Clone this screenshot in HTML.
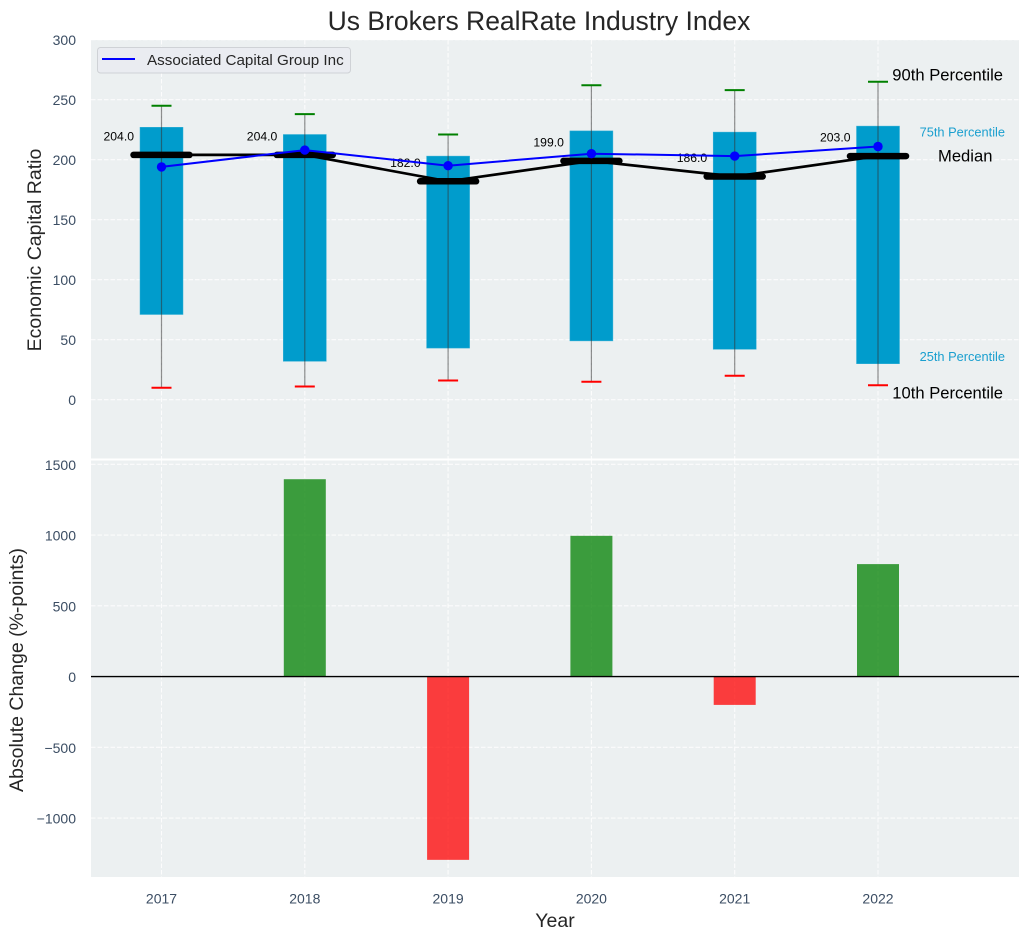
<!DOCTYPE html>
<html>
<head>
<meta charset="utf-8">
<title>Us Brokers RealRate Industry Index</title>
<style>
html,body{margin:0;padding:0;background:#fff;}
svg{display:block;font-family:"Liberation Sans",sans-serif;}
</style>
</head>
<body>
<svg id="chart" width="1029" height="940" viewBox="0 0 1029 940" xmlns="http://www.w3.org/2000/svg"></svg>
<script>
const years = [2017, 2018, 2019, 2020, 2021, 2022];
const p90 = [245, 238, 221, 262, 258, 265];
const p75 = [227, 221, 203, 224, 223, 228];
const median = [204, 204, 182, 199, 186, 203];
const p25 = [71, 32, 43, 49, 42, 30];
const p10 = [10, 11, 16, 15, 20, 12];
const company = [194, 208, 195, 205, 203, 211];
const absChange = [null, 1395, -1295, 995, -200, 795];
const topTicks = [0, 50, 100, 150, 200, 250, 300];
const bottomTicks = [-1000, -500, 0, 500, 1000, 1500];
const seriesName = 'Associated Capital Group Inc';

const NS = 'http://www.w3.org/2000/svg';
const svg = document.getElementById('chart');
const L = 91, R = 1019, T1 = 40, B1 = 458.5, T2 = 460.5, B2 = 877;
const tickColor = '#3b4d63', labelColor = '#262626';
const x = v => 161.5 + (v - 2017) * 143.3;
const yTop = v => 399.7 - v * 1.2;
const yBot = v => 676.6 - v * 0.1415;
const fmtTick = v => (v < 0 ? '\u2212' + Math.abs(v) : String(v));

function el(tag, attrs, parent) {
  const e = document.createElementNS(NS, tag);
  for (const k in attrs) e.setAttribute(k, attrs[k]);
  (parent || svg).appendChild(e);
  return e;
}
function txt(str, attrs, parent) {
  const e = el('text', attrs, parent);
  e.textContent = str;
  return e;
}

/* axes backgrounds */
const bgTop = el('rect', {x: L, y: T1, width: R - L, height: B1 - T1, fill: '#ecf0f1'});


const bgBot = el('rect', {x: L, y: T2, width: R - L, height: B2 - T2, fill: '#ecf0f1'});



/* grid */
const grid = el('g', {stroke: '#fff', 'stroke-width': 1.1, 'stroke-dasharray': '4.5 2', opacity: 0.85});


years.forEach(v => {
  el('line', {x1: x(v), x2: x(v), y1: T1, y2: B1}, grid);
  el('line', {x1: x(v), x2: x(v), y1: T2, y2: B2}, grid);
});
topTicks.forEach(v => el('line', {x1: L, x2: R, y1: yTop(v), y2: yTop(v)}, grid));
bottomTicks.forEach(v => el('line', {x1: L, x2: R, y1: yBot(v), y2: yBot(v)}, grid));

/* tick labels */
topTicks.forEach(v => {
  const t = txt(fmtTick(v), {x: 76, y: yTop(v) + 5.5, 'text-anchor': 'end', 'font-size': 14, fill: tickColor});
  
  
});
bottomTicks.forEach(v => {
  const t = txt(fmtTick(v), {x: 76, y: yBot(v) + 5.5, 'text-anchor': 'end', 'font-size': 14, fill: tickColor});
  
  
});
years.forEach(v => {
  const t = txt(String(v), {x: x(v), y: 903.5, 'text-anchor': 'middle', 'font-size': 14, fill: tickColor});
  
  
});

/* percentile bars */
years.forEach((v, i) => {
  const b = el('rect', {x: x(v) - 21.5, width: 43, y: yTop(p75[i]), height: yTop(p25[i]) - yTop(p75[i]), fill: '#009ccc', stroke: '#33b0d6', 'stroke-width': 0.5});
  
  
});

/* whiskers */
years.forEach((v, i) => {
  const w = el('line', {x1: x(v), x2: x(v), y1: yTop(p90[i]), y2: yTop(p10[i]), stroke: '#333', 'stroke-opacity': 0.55, 'stroke-width': 1.2});
  
  
  const hi = el('line', {x1: x(v) - 10, x2: x(v) + 10, y1: yTop(p90[i]), y2: yTop(p90[i]), stroke: '#008000', 'stroke-width': 2});
  
  
  const lo = el('line', {x1: x(v) - 10, x2: x(v) + 10, y1: yTop(p10[i]), y2: yTop(p10[i]), stroke: '#ff0000', 'stroke-width': 2});
  
  
});

/* median line and thick markers */
const medLine = el('polyline', {points: years.map((v, i) => x(v) + ',' + yTop(median[i])).join(' '), fill: 'none', stroke: '#000', 'stroke-width': 2.7});


years.forEach((v, i) => {
  const m = el('line', {x1: x(v) - 28, x2: x(v) + 28, y1: yTop(median[i]), y2: yTop(median[i]), stroke: '#000', 'stroke-width': 6.5, 'stroke-linecap': 'round'});
  
  
  const t = txt(median[i].toFixed(1), {x: x(v) - 27.5, y: yTop(median[i]) - 14.4, 'text-anchor': 'end', 'font-size': 12.2, fill: '#000'});
  
  
});

/* company series */
const compLine = el('polyline', {points: years.map((v, i) => x(v) + ',' + yTop(company[i])).join(' '), fill: 'none', stroke: '#0000ff', 'stroke-width': 2});


years.forEach((v, i) => {
  const c = el('circle', {cx: x(v), cy: yTop(company[i]), r: 4.7, fill: '#0000ff'});
  
  
});

/* percentile annotations anchored on the last year */
const last = years.length - 1;
const annX = x(years[last]);
const a90 = txt('90th Percentile', {x: annX + 125, y: yTop(p90[last]) - 1, 'text-anchor': 'end', 'font-size': 16.6, fill: '#000'});


const a75 = txt('75th Percentile', {x: annX + 127, y: yTop(p75[last]) + 10.5, 'text-anchor': 'end', 'font-size': 12.8, fill: '#1a9fcf'});


const aMed = txt('Median', {x: annX + 60, y: yTop(median[last]) + 5.5, 'font-size': 16.6, fill: '#000'});


const a25 = txt('25th Percentile', {x: annX + 127, y: yTop(p25[last]) - 2.5, 'text-anchor': 'end', 'font-size': 12.8, fill: '#1a9fcf'});


const a10 = txt('10th Percentile', {x: annX + 125, y: yTop(p10[last]) + 13, 'text-anchor': 'end', 'font-size': 16.6, fill: '#000'});



/* legend */
const lg = el('g', {});


el('rect', {x: 97.5, y: 47.5, width: 253, height: 25.5, rx: 3, fill: '#eaecf1', stroke: '#cfd2d6', 'stroke-width': 1}, lg);
el('line', {x1: 102, x2: 135, y1: 59, y2: 59, stroke: '#0000ff', 'stroke-width': 2}, lg);
const lgText = txt(seriesName, {x: 147, y: 65, 'font-size': 15.2, fill: '#262626'}, lg);



/* change bars */
years.forEach((v, i) => {
  if (absChange[i] === null) return;
  const val = absChange[i];
  const b = el('rect', {x: x(v) - 21, width: 42, y: Math.min(yBot(val), yBot(0)), height: Math.abs(yBot(val) - yBot(0)), fill: val >= 0 ? '#008000' : '#ff0000', 'fill-opacity': 0.75});
  
  
});
const zero = el('line', {x1: L, x2: R, y1: yBot(0), y2: yBot(0), stroke: '#000', 'stroke-width': 1.4});



/* titles */
const title = txt('Us Brokers RealRate Industry Index', {x: 539, y: 30, 'text-anchor': 'middle', 'font-size': 26.5, fill: labelColor});


const xt = txt('Year', {x: 555, y: 927, 'text-anchor': 'middle', 'font-size': 19.5, fill: labelColor});


const yt1 = txt('Economic Capital Ratio', {transform: 'translate(41,250) rotate(-90)', 'text-anchor': 'middle', 'font-size': 19.5, fill: labelColor});


const yt2 = txt('Absolute Change (%-points)', {transform: 'translate(23,670) rotate(-90)', 'text-anchor': 'middle', 'font-size': 19.5, fill: labelColor});


</script>
</body>
</html>
